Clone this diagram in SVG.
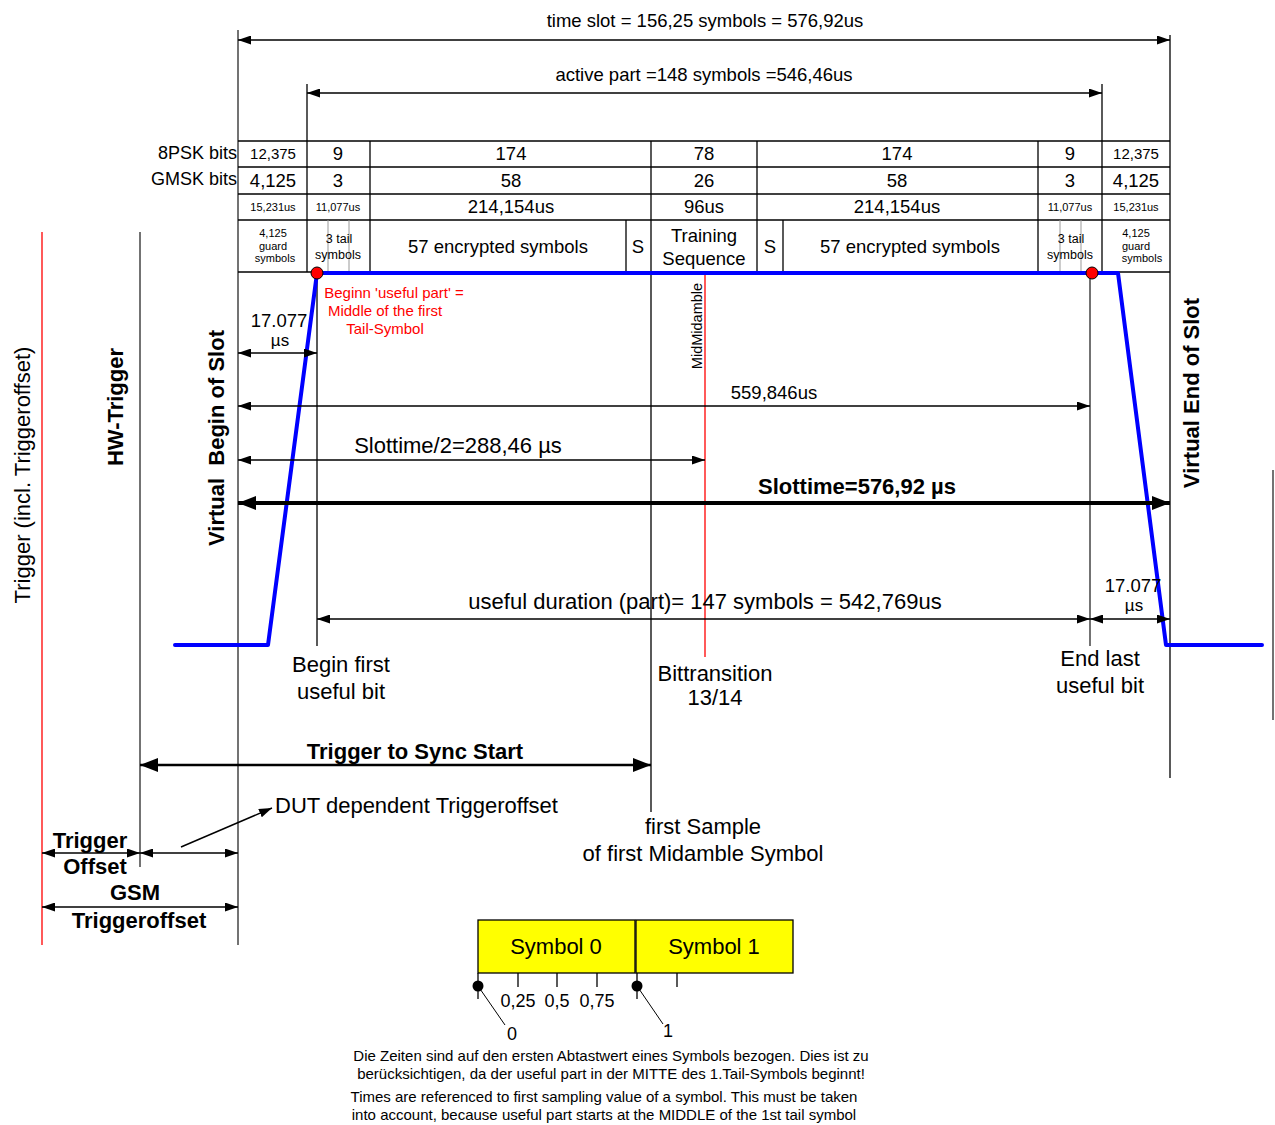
<svg xmlns="http://www.w3.org/2000/svg" width="1275" height="1125" viewBox="0 0 1275 1125">
<style>
text{font-family:"Liberation Sans",Arial,sans-serif;fill:#000}
.c{text-anchor:middle}
.b{font-weight:bold}
.r{fill:#ff0000}
.tl{stroke:#000;stroke-width:1.3;fill:none}
.gl{stroke:#444;stroke-width:1.5;fill:none}
.thin{stroke:#999;stroke-width:1;fill:none}
.ar{stroke:#000;stroke-width:1.5;fill:none;marker-start:url(#ah);marker-end:url(#ah)}
</style>
<defs>
<marker id="ah" viewBox="0 0 13 9" markerWidth="13" markerHeight="9" refX="13" refY="4.5" markerUnits="userSpaceOnUse" orient="auto-start-reverse"><path d="M0,0 L13,4.5 L0,9 Z" fill="#000"/></marker>
<marker id="ahb" viewBox="0 0 18 14" markerWidth="18" markerHeight="14" refX="18" refY="7" markerUnits="userSpaceOnUse" orient="auto-start-reverse"><path d="M0,0 L18,7 L0,14 Z" fill="#000"/></marker>
</defs>

<g id="guides">
<line class="r" x1="42" y1="232" x2="42" y2="945" stroke="#ff0000" stroke-width="1.3"/>
<line class="gl" x1="140" y1="232" x2="140" y2="867"/>
<line class="gl" x1="238" y1="30" x2="238" y2="945"/>
<line class="tl" x1="1170" y1="35" x2="1170" y2="778"/>
<line class="gl" x1="1273" y1="470" x2="1273" y2="720"/>
<line class="tl" x1="651" y1="141" x2="651" y2="812"/>
<line class="tl" x1="317" y1="273" x2="317" y2="646"/>
<line class="gl" x1="1090" y1="273" x2="1090" y2="646"/>
<line x1="705" y1="272" x2="705" y2="657" stroke="#ff0000" stroke-width="1.3"/>
</g>

<g id="table">
<line class="tl" x1="238" y1="141" x2="1170" y2="141"/>
<line class="tl" x1="238" y1="167" x2="1170" y2="167"/>
<line class="tl" x1="238" y1="194" x2="1170" y2="194"/>
<line class="tl" x1="238" y1="220" x2="1170" y2="220"/>
<line class="tl" x1="238" y1="272" x2="1170" y2="272"/>
<line class="tl" x1="307" y1="84" x2="307" y2="272"/>
<line class="tl" x1="370" y1="141" x2="370" y2="272"/>
<line class="tl" x1="757" y1="141" x2="757" y2="272"/>
<line class="tl" x1="1038" y1="141" x2="1038" y2="272"/>
<line class="tl" x1="1102" y1="84" x2="1102" y2="272"/>
<line class="tl" x1="626" y1="220" x2="626" y2="272"/>
<line class="tl" x1="783" y1="220" x2="783" y2="272"/>
<line class="thin" x1="328" y1="220" x2="328" y2="272"/>
<line class="thin" x1="349" y1="220" x2="349" y2="272"/>
<line class="thin" x1="1060" y1="220" x2="1060" y2="272"/>
<line class="thin" x1="1081" y1="220" x2="1081" y2="272"/>

<text x="237" y="159" font-size="18" text-anchor="end">8PSK bits</text>
<text x="237" y="185" font-size="18" text-anchor="end">GMSK bits</text>

<text class="c" x="273" y="159" font-size="15">12,375</text>
<text class="c" x="338" y="160" font-size="18.5">9</text>
<text class="c" x="511" y="160" font-size="18.5">174</text>
<text class="c" x="704" y="160" font-size="18.5">78</text>
<text class="c" x="897" y="160" font-size="18.5">174</text>
<text class="c" x="1070" y="160" font-size="18.5">9</text>
<text class="c" x="1136" y="159" font-size="15">12,375</text>

<text class="c" x="273" y="187" font-size="18.5">4,125</text>
<text class="c" x="338" y="187" font-size="18.5">3</text>
<text class="c" x="511" y="187" font-size="18.5">58</text>
<text class="c" x="704" y="187" font-size="18.5">26</text>
<text class="c" x="897" y="187" font-size="18.5">58</text>
<text class="c" x="1070" y="187" font-size="18.5">3</text>
<text class="c" x="1136" y="187" font-size="18.5">4,125</text>

<text class="c" x="273" y="211" font-size="11">15,231us</text>
<text class="c" x="338" y="211" font-size="11">11,077us</text>
<text class="c" x="511" y="213" font-size="18.5">214,154us</text>
<text class="c" x="704" y="213" font-size="18.5">96us</text>
<text class="c" x="897" y="213" font-size="18.5">214,154us</text>
<text class="c" x="1070" y="211" font-size="11">11,077us</text>
<text class="c" x="1136" y="211" font-size="11">15,231us</text>

<text class="c" x="273" y="237" font-size="11">4,125</text>
<text class="c" x="273" y="250" font-size="11">guard</text>
<text class="c" x="275" y="262" font-size="11">symbols</text>
<text class="c" x="339" y="243" font-size="12.5">3 tail</text>
<text class="c" x="338" y="259" font-size="12.5">symbols</text>
<text class="c" x="498" y="253" font-size="18.5">57 encrypted symbols</text>
<text class="c" x="638" y="253" font-size="18.5">S</text>
<text class="c" x="704" y="242" font-size="18.5">Training</text>
<text class="c" x="704" y="265" font-size="18.5">Sequence</text>
<text class="c" x="770" y="253" font-size="18.5">S</text>
<text class="c" x="910" y="253" font-size="18.5">57 encrypted symbols</text>
<text class="c" x="1071" y="243" font-size="12.5">3 tail</text>
<text class="c" x="1070" y="259" font-size="12.5">symbols</text>
<text class="c" x="1136" y="237" font-size="11">4,125</text>
<text class="c" x="1136" y="250" font-size="11">guard</text>
<text class="c" x="1142" y="262" font-size="11">symbols</text>
</g>

<g id="waveform">
<path d="M175,645 L268,645 L317,273 L1118,273 L1166,645 L1262,645" fill="none" stroke="#0000ff" stroke-width="4" stroke-linejoin="round" stroke-linecap="round"/>
<circle cx="317" cy="273" r="6" fill="#ff0000" stroke="#000" stroke-width="1"/>
<circle cx="1092" cy="273" r="6" fill="#ff0000" stroke="#000" stroke-width="1"/>
</g>

<g id="connectors">
<line class="ar" x1="238" y1="40" x2="1170" y2="40"/>
<line class="ar" x1="307" y1="93" x2="1102" y2="93"/>
<line class="ar" x1="238" y1="353" x2="317" y2="353"/>
<line class="ar" x1="238" y1="406" x2="1090" y2="406"/>
<line class="ar" x1="238" y1="460" x2="705" y2="460"/>
<line x1="238" y1="503" x2="1170" y2="503" stroke="#000" stroke-width="4" marker-start="url(#ahb)" marker-end="url(#ahb)"/>
<line class="ar" x1="317" y1="619" x2="1090" y2="619"/>
<line class="ar" x1="1090" y1="619" x2="1170" y2="619"/>
<line x1="140" y1="765" x2="651" y2="765" stroke="#000" stroke-width="2.5" marker-start="url(#ahb)" marker-end="url(#ahb)"/>
<line class="ar" x1="42" y1="853" x2="140" y2="853"/>
<line class="ar" x1="140" y1="853" x2="238" y2="853"/>
<line x1="181" y1="847" x2="272" y2="808" stroke="#000" stroke-width="1.5" marker-end="url(#ah)"/>
<line class="ar" x1="42" y1="907" x2="238" y2="907"/>
</g>

<g id="labels">
<text class="c" x="705" y="27" font-size="18.5">time slot = 156,25 symbols = 576,92us</text>
<text class="c" x="704" y="81" font-size="18.5">active part =148 symbols =546,46us</text>
<text class="c r" x="394" y="298" font-size="15">Beginn 'useful part' =</text>
<text class="c r" x="385" y="316" font-size="15">Middle of the first</text>
<text class="c r" x="385" y="334" font-size="15">Tail-Symbol</text>
<text class="c" x="279" y="327" font-size="18.5">17.077</text>
<text class="c" x="280" y="346" font-size="17">µs</text>
<text class="c" x="774" y="399" font-size="18.5">559,846us</text>
<text class="c" x="458" y="453" font-size="22">Slottime/2=288,46 µs</text>
<text class="c b" x="857" y="494" font-size="22">Slottime=576,92 µs</text>
<text class="c" x="705" y="609" font-size="22">useful duration (part)= 147 symbols = 542,769us</text>
<text class="c" x="1133" y="592" font-size="18.5">17.077</text>
<text class="c" x="1134" y="611" font-size="17">µs</text>
<text class="c" x="702" y="326" font-size="14.5" transform="rotate(-90 702 326)">MidMidamble</text>
<text class="c" x="30" y="475" font-size="22" transform="rotate(-90 30 475)">Trigger (incl.  Triggeroffset)</text>
<text class="c b" x="123" y="407" font-size="22" transform="rotate(-90 123 407)">HW-Trigger</text>
<text class="c b" x="224" y="438" font-size="22" transform="rotate(-90 224 438)" xml:space="preserve">Virtual  Begin of Slot</text>
<text class="c b" x="1199" y="393" font-size="22" transform="rotate(-90 1199 393)">Virtual End of Slot</text>
<text class="c" x="341" y="672" font-size="22">Begin first</text>
<text class="c" x="341" y="699" font-size="22">useful bit</text>
<text class="c" x="715" y="681" font-size="22">Bittransition</text>
<text class="c" x="715" y="705" font-size="22">13/14</text>
<text class="c" x="1100" y="666" font-size="22">End last</text>
<text class="c" x="1100" y="693" font-size="22">useful bit</text>
<text class="c b" x="415" y="759" font-size="22">Trigger to Sync Start</text>
<text x="275" y="813" font-size="22">DUT dependent Triggeroffset</text>
<text class="c" x="703" y="834" font-size="22">first Sample</text>
<text class="c" x="703" y="861" font-size="22">of first Midamble Symbol</text>
<text class="c b" x="90" y="848" font-size="22">Trigger</text>
<text class="c b" x="95" y="874" font-size="22">Offset</text>
<text class="c b" x="135" y="900" font-size="22">GSM</text>
<text class="c b" x="139" y="928" font-size="22">Triggeroffset</text>
</g>

<g id="symbols">
<rect x="478" y="920" width="157" height="53" fill="#ffff00" stroke="#000" stroke-width="1.3"/>
<rect x="636" y="920" width="157" height="53" fill="#ffff00" stroke="#000" stroke-width="1.3"/>
<text class="c" x="556" y="954" font-size="22">Symbol 0</text>
<text class="c" x="714" y="954" font-size="22">Symbol 1</text>
<g stroke="#000" stroke-width="1.3">
<line x1="518" y1="973" x2="518" y2="987"/>
<line x1="557" y1="973" x2="557" y2="987"/>
<line x1="597" y1="973" x2="597" y2="987"/>
<line x1="677" y1="973" x2="677" y2="987"/>
<line x1="478" y1="973" x2="478" y2="999"/>
<line x1="637" y1="973" x2="637" y2="999"/>
<line x1="478" y1="986" x2="505" y2="1025" stroke-width="1"/>
<line x1="637" y1="986" x2="663" y2="1024" stroke-width="1"/>
</g>
<circle cx="478" cy="986" r="5.5" fill="#000"/>
<circle cx="637" cy="986" r="5.5" fill="#000"/>
<text class="c" x="518" y="1007" font-size="18">0,25</text>
<text class="c" x="557" y="1007" font-size="18">0,5</text>
<text class="c" x="597" y="1007" font-size="18">0,75</text>
<text class="c" x="512" y="1040" font-size="18">0</text>
<text class="c" x="668" y="1037" font-size="18">1</text>
</g>

<g id="notes">
<text class="c" x="611" y="1061" font-size="15">Die Zeiten sind auf den ersten Abtastwert eines Symbols bezogen. Dies ist zu</text>
<text class="c" x="611" y="1079" font-size="15">berücksichtigen, da der useful part in der MITTE des 1.Tail-Symbols beginnt!</text>
<text class="c" x="604" y="1102" font-size="15">Times are referenced to first sampling value of a symbol. This must be taken</text>
<text class="c" x="604" y="1120" font-size="15">into account, because useful part starts at the MIDDLE of the 1st tail symbol</text>
</g>
</svg>
